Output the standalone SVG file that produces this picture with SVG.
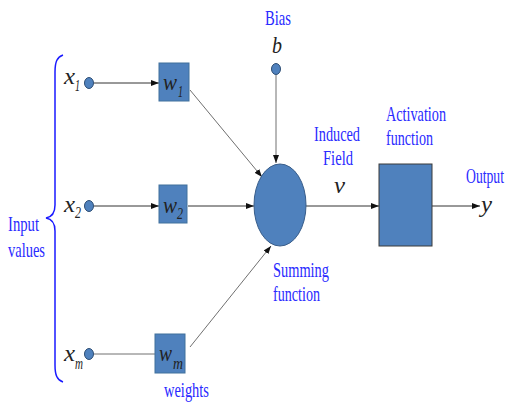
<svg xmlns="http://www.w3.org/2000/svg" width="508" height="404" viewBox="0 0 508 404">
<defs>
<style>
.lbl{font-family:"Liberation Serif","Times New Roman",serif;font-size:21px;fill:#2a2aff}
.mth{font-family:"Liberation Serif","Times New Roman",serif;font-style:italic;fill:#222}
.big{font-size:24px}
.sub{font-size:16px}
.box{fill:#4f81bd;stroke:#41719c;stroke-width:1}
.dot{fill:#4f81bd;stroke:#2f4f75;stroke-width:1}
.ln{fill:none;stroke:#333;stroke-width:1}
.lg{fill:none;stroke:#707070;stroke-width:1}
</style>
<marker id="ah" viewBox="0 0 8 6" refX="8" refY="3" markerWidth="8" markerHeight="6" markerUnits="userSpaceOnUse" orient="auto">
<path d="M0,0 L8,3 L0,6 Z" fill="#111"/>
</marker>
</defs>
<rect width="508" height="404" fill="#fff"/>

<g id="connectors">
<path class="ln" d="M94,83 L159,83" marker-end="url(#ah)"/>
<path class="ln" d="M94,206 L159,206" marker-end="url(#ah)"/>
<path class="lg" d="M94,354 L155,354"/>
<path class="lg" d="M190,90 L262,177" marker-end="url(#ah)"/>
<path class="ln" d="M188,206 L254,206" marker-end="url(#ah)"/>
<path class="lg" d="M190,347 L271,246" marker-end="url(#ah)"/>
<path class="lg" d="M276,75 L276,163" marker-end="url(#ah)"/>
<path class="ln" d="M306,206 L379,206" marker-end="url(#ah)"/>
<path class="ln" d="M432,206 L480,206" marker-end="url(#ah)"/>
</g>

<g id="brace">
<path d="M63,55 C57,57 55,62 55,72 L55,205 C55,212 52,217 46,218 C52,219 55,224 55,231 L55,365 C55,375 57,380 63,382" fill="none" stroke="#1a1aff" stroke-width="1.5"/>
<text class="lbl" x="8" y="231" textLength="31" lengthAdjust="spacingAndGlyphs">Input</text>
<text class="lbl" x="8" y="257" textLength="37" lengthAdjust="spacingAndGlyphs">values</text>
</g>

<g id="x1">
<text class="mth big" x="64" y="84" textLength="11" lengthAdjust="spacingAndGlyphs">x</text>
<text class="mth sub" x="75" y="91" textLength="5" lengthAdjust="spacingAndGlyphs">1</text>
<ellipse class="dot" cx="89" cy="83" rx="4.5" ry="5.5"/>
</g>
<g id="x2">
<text class="mth big" x="64" y="212" textLength="11" lengthAdjust="spacingAndGlyphs">x</text>
<text class="mth sub" x="75" y="218" textLength="6" lengthAdjust="spacingAndGlyphs">2</text>
<ellipse class="dot" cx="89" cy="206" rx="4.5" ry="5.5"/>
</g>
<g id="xm">
<text class="mth big" x="64" y="361" textLength="11" lengthAdjust="spacingAndGlyphs">x</text>
<text class="mth sub" x="75" y="369" textLength="8" lengthAdjust="spacingAndGlyphs">m</text>
<ellipse class="dot" cx="89" cy="354" rx="4.5" ry="5.5"/>
</g>

<g id="w1">
<rect class="box" x="159" y="63" width="30" height="38"/>
<text class="mth big" x="163" y="90" textLength="14" lengthAdjust="spacingAndGlyphs">w</text>
<text class="mth sub" x="178" y="97" textLength="5" lengthAdjust="spacingAndGlyphs">1</text>
</g>
<g id="w2">
<rect class="box" x="159" y="185" width="28" height="38"/>
<text class="mth big" x="163" y="213" textLength="14" lengthAdjust="spacingAndGlyphs">w</text>
<text class="mth sub" x="177" y="219" textLength="6" lengthAdjust="spacingAndGlyphs">2</text>
</g>
<g id="wm">
<rect class="box" x="155" y="334" width="30" height="39"/>
<text class="mth big" x="159" y="361" textLength="13" lengthAdjust="spacingAndGlyphs">w</text>
<text class="mth sub" x="173" y="369" textLength="10" lengthAdjust="spacingAndGlyphs">m</text>
</g>
<g id="weights-label">
<text class="lbl" x="164" y="397" textLength="45" lengthAdjust="spacingAndGlyphs">weights</text>
</g>

<g id="bias">
<text class="lbl" x="265" y="25" textLength="26" lengthAdjust="spacingAndGlyphs">Bias</text>
<text class="mth big" x="272" y="53" textLength="10" lengthAdjust="spacingAndGlyphs">b</text>
<ellipse class="dot" cx="276" cy="69" rx="4.5" ry="5.5"/>
</g>

<g id="sum">
<ellipse cx="280" cy="205" rx="26" ry="41" fill="#4f81bd" stroke="#385d8a" stroke-width="1"/>
<text class="lbl" x="273" y="277" textLength="56" lengthAdjust="spacingAndGlyphs">Summing</text>
<text class="lbl" x="273" y="301" textLength="47" lengthAdjust="spacingAndGlyphs">function</text>
</g>

<g id="induced">
<text class="lbl" x="314" y="141" textLength="46" lengthAdjust="spacingAndGlyphs">Induced</text>
<text class="lbl" x="323" y="165" textLength="30" lengthAdjust="spacingAndGlyphs">Field</text>
<text class="mth big" x="334" y="193" textLength="11" lengthAdjust="spacingAndGlyphs">v</text>
</g>

<g id="activation">
<text class="lbl" x="386" y="121" textLength="60" lengthAdjust="spacingAndGlyphs">Activation</text>
<text class="lbl" x="386" y="145" textLength="47" lengthAdjust="spacingAndGlyphs">function</text>
<rect x="379" y="164" width="53" height="82" fill="#4f81bd" stroke="#3a3a3a" stroke-width="1"/>
</g>

<g id="output">
<text class="lbl" x="466" y="183" textLength="38" lengthAdjust="spacingAndGlyphs">Output</text>
<text class="mth big" x="481" y="212" textLength="11" lengthAdjust="spacingAndGlyphs">y</text>
</g>
</svg>
